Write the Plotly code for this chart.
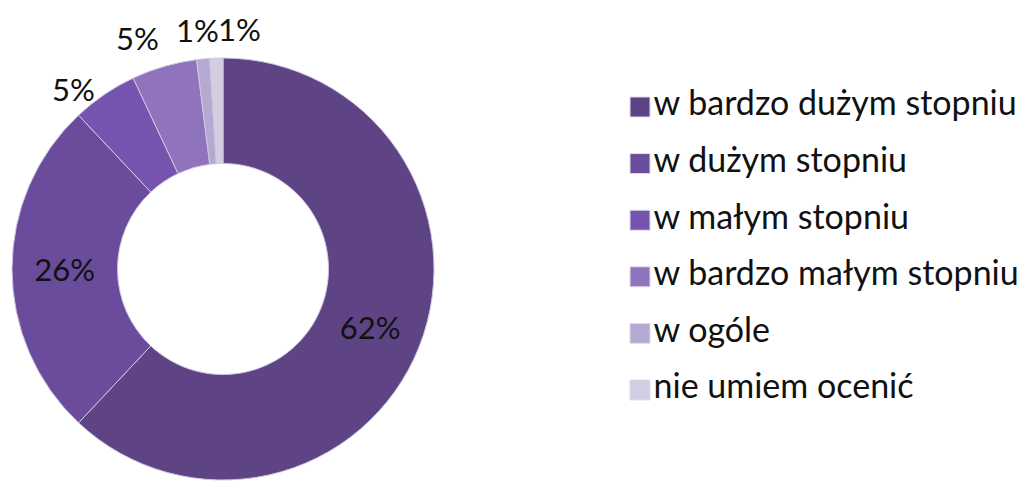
import math
import plotly.graph_objects as go

labels = ["w bardzo dużym stopniu", "w dużym stopniu", "w małym stopniu",
          "w bardzo małym stopniu", "w ogóle", "nie umiem ocenić"]
values = [62, 26, 5, 5, 1, 1]
colors = ["#5e4485", "#6a4b9c", "#7554b0", "#8f74bd", "#b5a9d2", "#d2cde0"]
inside = [True, True, False, False, False, False]

FONT = "Lato, 'Open Sans', sans-serif"
# page body has an 8px margin, so the figure is a bit smaller than the window
PAD = 8
W, H = 1026 - PAD, 481 - PAD


def px_x(x):
    return (x - PAD) / W


def px_y(y):
    return 1 - (y - PAD) / H


# donut placement in window pixels
CX, CY, R = 223, 269, 211

fig = go.Figure()

fig.add_trace(go.Pie(
    labels=labels,
    values=values,
    hole=0.5,
    sort=False,
    direction="clockwise",
    rotation=0,
    marker=dict(colors=colors, line=dict(color="#cfc7e0", width=1)),
    text=[f"{v}%" if ins else "" for v, ins in zip(values, inside)],
    texttemplate="%{text}",
    textposition="inside",
    insidetextorientation="horizontal",
    textfont=dict(family=FONT, size=31, color="#111111"),
    domain=dict(x=[px_x(CX - R), px_x(CX + R)], y=[px_y(CY + R), px_y(CY - R)]),
    showlegend=False,
    hoverinfo="label+percent",
))

# outside labels for the thin slices, placed at each slice's mid angle
total = sum(values)
cum = 0
for i, v in enumerate(values):
    mid = (cum + v / 2) / total * 2 * math.pi
    cum += v
    if inside[i]:
        continue
    s, c = math.sin(mid), math.cos(mid)
    if i == len(values) - 1:
        xa = "left"
    elif s < -0.2:
        xa = "right"
    else:
        xa = "center"
    fig.add_annotation(
        x=px_x(CX + 224 * s), y=px_y(CY - 224 * c), xref="paper", yref="paper",
        text=f"{v}%", showarrow=False,
        xanchor=xa,
        yanchor="middle" if abs(s) > 0.5 else "bottom",
        xshift=-4 if xa == "center" else 0,
        yshift=-5,
        font=dict(family=FONT, size=31, color="#111111"),
    )

# legend drawn by hand so the squares and spacing match the original
fig.add_trace(go.Scatter(
    x=[0] * len(labels),
    y=list(range(len(labels))),
    mode="markers+text",
    marker=dict(symbol="square", size=20, color=colors,
                line=dict(color="#e0dcea", width=1)),
    text=labels,
    textposition="middle right",
    textfont=dict(family=FONT, size=34, color="#111111"),
    cliponaxis=False,
    hoverinfo="skip",
    showlegend=False,
))

fig.update_layout(
    width=W,
    height=H,
    margin=dict(l=0, r=0, t=0, b=0, autoexpand=False),
    paper_bgcolor="white",
    plot_bgcolor="white",
    xaxis=dict(domain=[px_x(640), 1.0], range=[0, 1], visible=False, fixedrange=True),
    yaxis=dict(range=[6.608, -1.749], visible=False, fixedrange=True),
)

fig.write_html("out.html")
